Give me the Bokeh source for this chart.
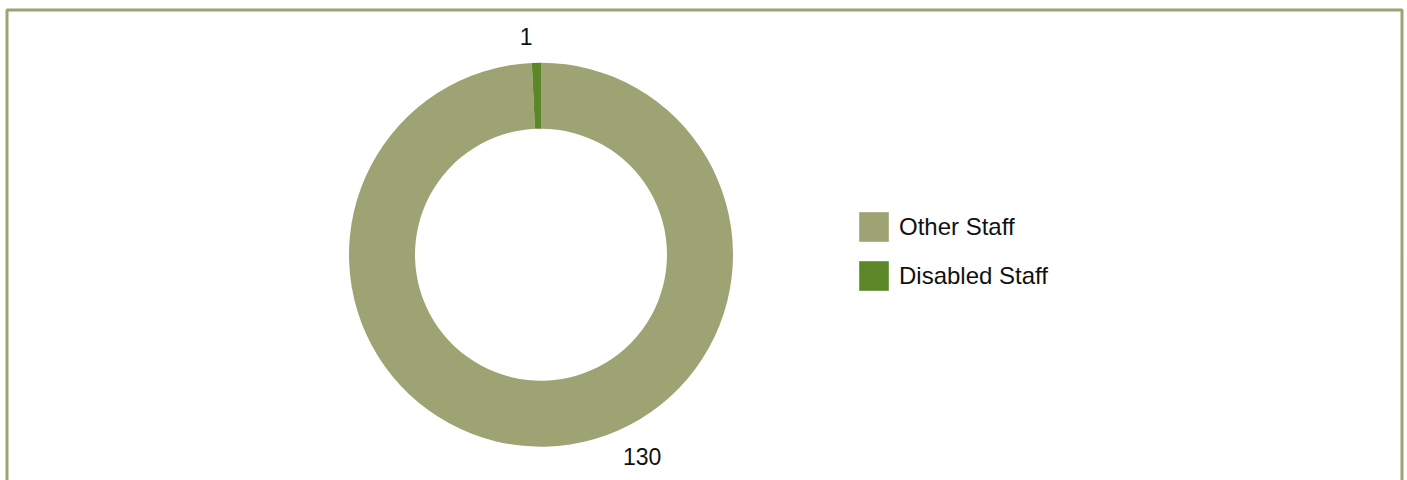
import math
from bokeh.plotting import figure
from bokeh.models import Range1d, Legend, LegendItem, BoxAnnotation, ColumnDataSource
from bokeh.core.properties import value
from bokeh.embed import file_html
from bokeh.resources import INLINE

# ---- data ----
categories = ["Other Staff", "Disabled Staff"]
counts = [130, 1]
colors = ["#9EA373", "#5B8728"]

# ---- layout (pixel-like data space) ----
W, H = 1404, 480
CX, CY = 540.5, 225.8
R_OUT, R_IN = 192.0, 126.0
FONT = "Liberation Sans"

total = sum(counts)
starts, ends, cum = [], [], 0
for c in counts:
    a0 = math.pi / 2 - 2 * math.pi * (cum + c) / total
    a1 = math.pi / 2 - 2 * math.pi * cum / total
    starts.append(a0)
    ends.append(a1)
    cum += c

src = ColumnDataSource(dict(cat=categories, val=counts, color=colors,
                            start=starts, end=ends))

p = figure(width=W, height=H, output_backend="svg", toolbar_location=None,
           x_range=Range1d(0, W), y_range=Range1d(0, H),
           x_axis_location=None, y_axis_location=None, min_border=0)
p.grid.visible = False
p.outline_line_color = None
p.background_fill_color = "white"
p.border_fill_color = "white"

r = p.annular_wedge(x=CX, y=CY, inner_radius=R_IN, outer_radius=R_OUT,
                    start_angle="start", end_angle="end", color="color",
                    line_color=None, source=src)

# data labels (angle in degrees, radius from centre: styling choices)
label_angles = [-63.4, 93.9]
label_radii = [226.0, 219.0]
lx = [CX + rr * math.cos(math.radians(a)) for a, rr in zip(label_angles, label_radii)]
ly = [CY + rr * math.sin(math.radians(a)) for a, rr in zip(label_angles, label_radii)]
p.text(x=lx, y=ly, text=[str(v) for v in counts], text_align="center",
       text_baseline="middle", text_font=value(FONT), text_font_size="23px",
       text_color="#111111")

legend = Legend(items=[LegendItem(label=categories[i], renderers=[r], index=i)
                       for i in range(len(categories))],
                location=(855, 186), orientation="vertical",
                glyph_width=37, glyph_height=37, label_height=37,
                spacing=12, label_standoff=7, padding=0, margin=0,
                border_line_color=None, background_fill_alpha=0,
                label_text_font=FONT, label_text_font_size="24px",
                label_text_color="#111111")
p.add_layout(legend)

# frame border
p.add_layout(BoxAnnotation(left=6.5, right=1401.5, top=470.5, bottom=-20,
                           fill_alpha=0, line_color="#9EA373", line_alpha=1,
                           line_width=3))

open("out.html", "w").write(file_html(p, INLINE))
